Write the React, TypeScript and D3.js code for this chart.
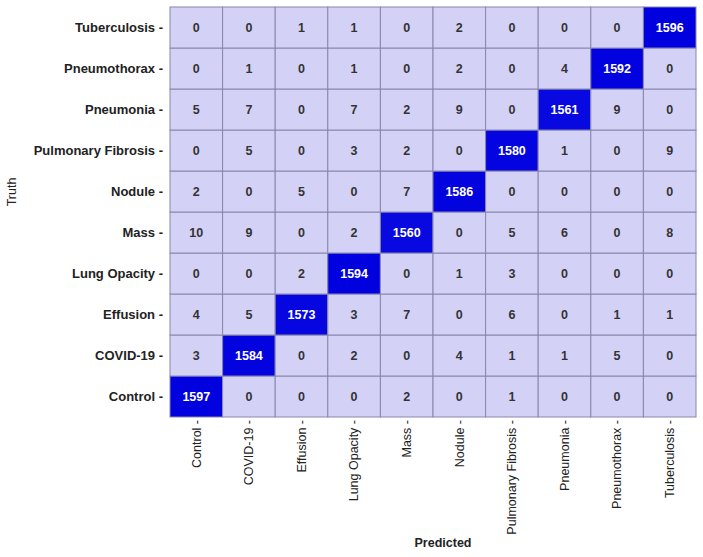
import React from "react";
import * as d3 from "d3";

const classes = [
  "Control",
  "COVID-19",
  "Effusion",
  "Lung Opacity",
  "Mass",
  "Nodule",
  "Pulmonary Fibrosis",
  "Pneumonia",
  "Pneumothorax",
  "Tuberculosis",
];

// rows = truth, columns = predicted (in classes order)
const controlRow = [1597, 0, 0, 0, 2, 0, 1, 0, 0, 0];
const covidRow = [3, 1584, 0, 2, 0, 4, 1, 1, 5, 0];
const effusionRow = [4, 5, 1573, 3, 7, 0, 6, 0, 1, 1];
const lungOpacityRow = [0, 0, 2, 1594, 0, 1, 3, 0, 0, 0];
const massRow = [10, 9, 0, 2, 1560, 0, 5, 6, 0, 8];
const noduleRow = [2, 0, 5, 0, 7, 1586, 0, 0, 0, 0];
const fibrosisRow = [0, 5, 0, 3, 2, 0, 1580, 1, 0, 9];
const pneumoniaRow = [5, 7, 0, 7, 2, 9, 0, 1561, 9, 0];
const pneumothoraxRow = [0, 1, 0, 1, 0, 2, 0, 4, 1592, 0];
const tuberculosisRow = [0, 0, 1, 1, 0, 2, 0, 0, 0, 1596];

const matrix = [
  controlRow,
  covidRow,
  effusionRow,
  lungOpacityRow,
  massRow,
  noduleRow,
  fibrosisRow,
  pneumoniaRow,
  pneumothoraxRow,
  tuberculosisRow,
];

const W = 703;
const H = 557;
const left = 170;
const right = 696;
const top = 7;
const bottom = 417;
const font = "'Liberation Sans', Arial, sans-serif";

export default function App() {
  const x = d3.scaleBand().domain(classes).range([left, right]);
  const y = d3.scaleBand().domain([...classes].reverse()).range([top, bottom]);
  const color = d3
    .scaleLinear<string>()
    .domain([0, 100, 1500, 1600])
    .range(["#d3d1f6", "#d0cef5", "#1515e2", "#0000e0"])
    .clamp(true);

  const cells: { t: string; p: string; v: number }[] = [];
  matrix.forEach((row, i) =>
    row.forEach((v, j) => cells.push({ t: classes[i], p: classes[j], v }))
  );

  return (
    <svg
      width={W}
      height={H}
      style={{ position: "absolute", left: 0, top: 0, background: "#fff" }}
      fontFamily={font}
    >
      {cells.map((c, k) => (
        <g key={k}>
          <rect
            x={x(c.p)!}
            y={y(c.t)!}
            width={x.bandwidth()}
            height={y.bandwidth()}
            fill={color(c.v)}
            stroke="#8886ad"
            strokeWidth={1}
          />
          <text
            x={x(c.p)! + x.bandwidth() / 2}
            y={y(c.t)! + y.bandwidth() / 2}
            dy="0.35em"
            textAnchor="middle"
            fontSize={12.5}
            fontWeight="bold"
            fill={c.v > 800 ? "#ffffff" : "#333333"}
          >
            {c.v}
          </text>
        </g>
      ))}
      {classes.map((c) => (
        <text
          key={"y" + c}
          x={163}
          y={y(c)! + y.bandwidth() / 2}
          dy="0.35em"
          textAnchor="end"
          fontSize={13}
          fontWeight="bold"
          fill="#222"
        >
          {c + " -"}
        </text>
      ))}
      {classes.map((c) => (
        <text
          key={"x" + c}
          transform={`translate(${x(c)! + x.bandwidth() / 2},${420}) rotate(-90)`}
          dy="0.35em"
          textAnchor="end"
          fontSize={12.5}
          fill="#222"
        >
          {c + " -"}
        </text>
      ))}
      <text
        x={443}
        y={547}
        textAnchor="middle"
        fontSize={12.5}
        fontWeight="bold"
        fill="#222"
      >
        Predicted
      </text>
      <text
        transform={`translate(12,192) rotate(-90)`}
        dy="0.35em"
        textAnchor="middle"
        fontSize={12.5}
        fill="#222"
      >
        Truth
      </text>
    </svg>
  );
}
